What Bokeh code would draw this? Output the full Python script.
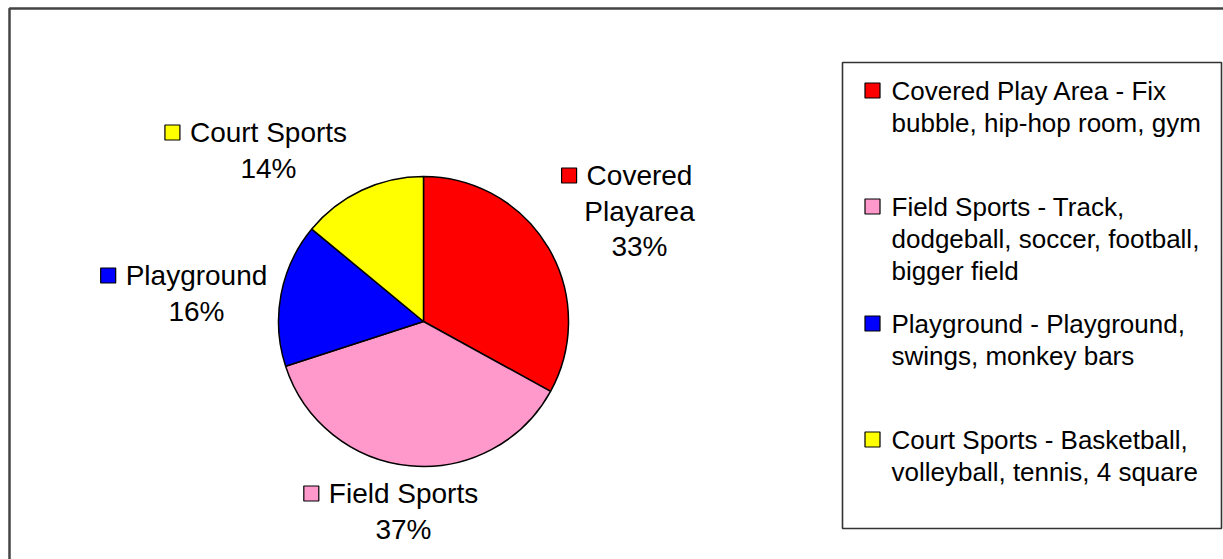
import math
from bokeh.plotting import figure
from bokeh.models import Range1d, ColumnDataSource
from bokeh.core.properties import value
from bokeh.embed import file_html
from bokeh.resources import INLINE

# ---- data ----
categories = ["Covered Play Area", "Field Sports", "Playground", "Court Sports"]
label_names = ["Covered\nPlayarea", "Field Sports", "Playground", "Court Sports"]
percents = [33, 37, 16, 14]
colors = ["#FF0000", "#FF99CC", "#0000FF", "#FFFF00"]
legend_texts = [
    ["Covered Play Area - Fix", "bubble, hip-hop room, gym"],
    ["Field Sports - Track,", "dodgeball, soccer, football,", "bigger field"],
    ["Playground - Playground,", "swings, monkey bars"],
    ["Court Sports - Basketball,", "volleyball, tennis, 4 square"],
]

# ---- layout (pixel coordinates, y measured from top) ----
W, H = 1223, 559
CX, CY, R = 423, 321, 145
label_centers = [(639, 175), (403, 493), (196, 275), (268, 132)]  # first-line centres
LABEL_FS = 28
LINE_H = 35.5
LEG_X_SW, LEG_X_TXT = 872, 891
legend_first_y = [90, 206, 323, 439]
LEG_FS = 26
LEG_LINE_H = 32
FONT = "Liberation Sans"
SW = 15

# Arial/Liberation Sans advance widths (per em) for swatch placement
_WID = {" ": .278, "%": .889, "C": .722, "F": .611, "P": .667, "S": .667,
        "a": .556, "d": .556, "e": .556, "g": .556, "i": .222, "l": .222,
        "n": .556, "o": .556, "p": .556, "r": .333, "s": .5, "t": .278,
        "u": .556, "v": .5, "y": .5}


def text_w(s, fs):
    return sum(_WID.get(c, .556) for c in s) * fs


def fy(y):
    return H - y


p = figure(width=W, height=H, output_backend="svg", toolbar_location=None,
           x_range=Range1d(0, W), y_range=Range1d(0, H), min_border=0,
           background_fill_color="white", border_fill_color="white")
p.axis.visible = False
p.grid.visible = False
p.outline_line_color = None

# outer chart frame (cut off at right and bottom)
p.quad(left=[9], right=[W + 40], top=[fy(8)], bottom=[fy(H + 40)],
       fill_color=None, line_color="#444444", line_width=2.5)

# pie wedges
total = sum(percents)
starts, ends = [], []
cum = 0.0
for v in percents:
    a0 = math.pi / 2 - 2 * math.pi * cum / total
    cum += v
    a1 = math.pi / 2 - 2 * math.pi * cum / total
    starts.append(a1)
    ends.append(a0)
src = ColumnDataSource(dict(start=starts, end=ends, color=colors))
p.wedge(x=CX, y=fy(CY), radius=R, start_angle="start", end_angle="end",
        fill_color="color", line_color="black", line_width=1.5, source=src)

# data labels
for name, pct, col, (lx, ly) in zip(label_names, percents, colors, label_centers):
    lines = name.split("\n") + [f"{pct}%"]
    ys = [fy(ly + i * LINE_H) for i in range(len(lines))]
    xs = [lx] * len(lines)
    p.text(x=xs, y=ys, text=lines, text_align="center", text_baseline="middle",
           text_font=value(FONT), text_font_size=f"{LABEL_FS}px", text_color="black")
    first_w = text_w(lines[0], LABEL_FS)
    p.scatter(x=[lx - first_w / 2 - 10 - SW / 2], y=[fy(ly)], marker="square", size=SW,
              fill_color=col, line_color="black", line_width=1.2)

# legend box
p.quad(left=[842], right=[1221], top=[fy(62)], bottom=[fy(528)],
       fill_color="white", line_color="#333333", line_width=1.6)
for lines, col, y0 in zip(legend_texts, colors, legend_first_y):
    ys = [fy(y0 + i * LEG_LINE_H) for i in range(len(lines))]
    p.text(x=[LEG_X_TXT] * len(lines), y=ys, text=lines, text_align="left",
           text_baseline="middle", text_font=value(FONT), text_font_size=f"{LEG_FS}px",
           text_color="black")
    p.scatter(x=[LEG_X_SW], y=[fy(y0)], marker="square", size=SW,
              fill_color=col, line_color="black", line_width=1.2)

open("out.html", "w").write(file_html(p, INLINE))
